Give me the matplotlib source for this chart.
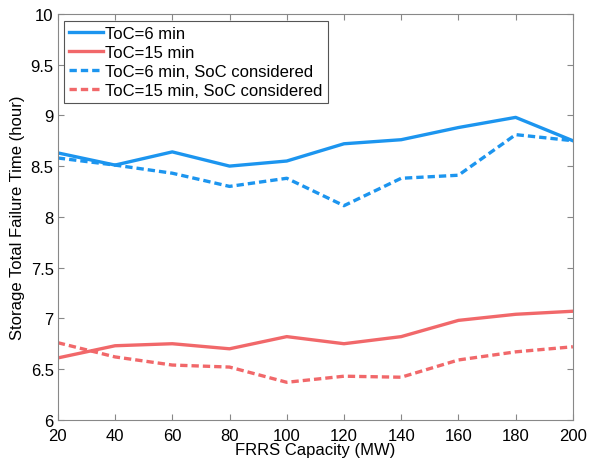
import matplotlib
matplotlib.use('Agg')
import matplotlib.pyplot as plt

plt.rcParams['font.family'] = ['Liberation Sans', 'DejaVu Sans']

capacity = [20, 40, 60, 80, 100, 120, 140, 160, 180, 200]
toc6 = [8.63, 8.51, 8.64, 8.50, 8.55, 8.72, 8.76, 8.88, 8.98, 8.75]
toc15 = [6.61, 6.73, 6.75, 6.70, 6.82, 6.75, 6.82, 6.98, 7.04, 7.07]
toc6_soc = [8.58, 8.51, 8.43, 8.30, 8.38, 8.11, 8.38, 8.41, 8.81, 8.75]
toc15_soc = [6.76, 6.62, 6.54, 6.52, 6.37, 6.43, 6.42, 6.59, 6.67, 6.72]

BLUE = '#1C95EF'
RED = '#F1686A'

fig = plt.figure(figsize=(5.9, 4.64), dpi=100)
ax = fig.add_axes([0.098, 0.093, 0.873, 0.875])

ax.plot(capacity, toc6, color=BLUE, lw=2.4, label='ToC=6 min')
ax.plot(capacity, toc15, color=RED, lw=2.4, label='ToC=15 min')
ax.plot(capacity, toc6_soc, color=BLUE, lw=2.4, ls=(0, (2.2, 1.2)),
        label='ToC=6 min, SoC considered')
ax.plot(capacity, toc15_soc, color=RED, lw=2.4, ls=(0, (2.2, 1.2)),
        label='ToC=15 min, SoC considered')

ax.set_xlim(20, 200)
ax.set_ylim(6, 10)
ax.set_xticks(range(20, 201, 20))
ax.set_yticks([6, 6.5, 7, 7.5, 8, 8.5, 9, 9.5, 10])
ax.set_yticklabels(['6', '6.5', '7', '7.5', '8', '8.5', '9', '9.5', '10'])
ax.tick_params(direction='in', top=True, right=True, length=4,
               labelsize=12, color='#888888', pad=3)
ax.tick_params(axis='x', pad=6)
for s in ax.spines.values():
    s.set_color('#888888')

ax.set_xlabel('FRRS Capacity (MW)', fontsize=12, labelpad=-1)
ax.set_ylabel('Storage Total Failure Time (hour)', fontsize=12, labelpad=4)

leg = ax.legend(loc='upper left', fontsize=12, fancybox=False,
                edgecolor='#555555', framealpha=1, handlelength=2.0,
                handletextpad=0.15, borderpad=0.3, labelspacing=0.25,
                borderaxespad=0.4)
leg.get_frame().set_linewidth(0.8)

fig.savefig('out.png', dpi=100)
